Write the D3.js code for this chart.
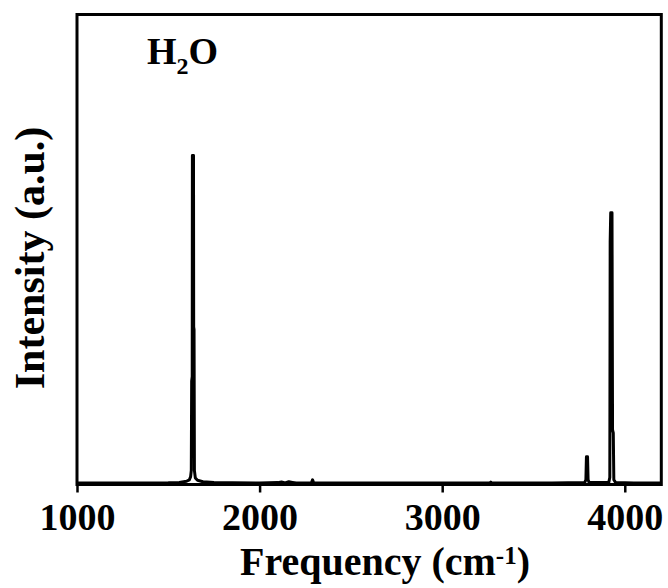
<!DOCTYPE html>
<html>
<head>
<meta charset="utf-8">
<script src="https://cdnjs.cloudflare.com/ajax/libs/d3/7.8.5/d3.min.js"></script>
<style>
    body { margin: 0; background: #fff; }
    text { font-family: "Liberation Serif", "Times New Roman", serif; font-weight: bold; fill: #000; }
</style>
</head>
<body>
<div id="chart"></div>
<script>
// spectrum (frequency in cm-1, intensity in a.u.)
var frequency = [1000, 1200, 1400, 1500, 1560, 1600, 1615, 1622, 1626, 1628, 1631, 1632, 1638, 1639, 1641, 1643, 1648, 1660, 1690, 1750, 1850, 2000,
                 2100, 2120, 2140, 2160, 2180, 2200, 2250, 2284, 2290, 2296, 2400, 2800, 3200, 3260, 3266, 3272, 3600, 3780, 3787, 3790, 3796, 3799, 3805,
                 3880, 3912, 3918, 3920, 3923, 3930, 3933, 3937, 3940, 3950, 4050, 4200];
var intensity = [0.3, 0.3, 0.3, 0.35, 0.45, 0.7, 1.0, 1.6, 3.0, 22.0, 23.0, 70.0, 70.0, 33.5, 33.0, 3.0, 1.4, 0.9, 0.6, 0.45, 0.35, 0.3,
                 0.4, 0.55, 0.35, 0.6, 0.45, 0.3, 0.3, 0.35, 1.0, 0.35, 0.3, 0.3, 0.3, 0.3, 0.5, 0.3, 0.3, 0.4, 1.0, 5.9, 5.9, 1.0, 0.4,
                 0.4, 0.4, 1.5, 51.7, 57.8, 57.8, 11.6, 11.0, 1.0, 0.4, 0.3, 0.3];
var x_ticks = [1000, 2000, 3000, 4000];

var spectrum = frequency.map(function(f, i) { return {freq: f, value: intensity[i]}; });

var svg_width = 668,
    svg_height = 588,
    margins = {top: 14.5, right: 6.7, bottom: 103.5, left: 77},
    width = svg_width - margins.left - margins.right,
    height = svg_height - margins.top - margins.bottom;

var svg = d3.select("#chart").append("svg")
    .attr("width", svg_width)
    .attr("height", svg_height);

var g = svg.append("g")
    .attr("transform", "translate(" + margins.left + "," + margins.top + ")");

var xScale = d3.scaleLinear()
    .domain([1000, 4200])
    .range([0, width]);

var yScale = d3.scaleLinear()
    .domain([0, 100])
    .range([height, 0]);

g.append("clipPath")
    .attr("id", "plot-clip")
    .append("rect")
    .attr("width", width)
    .attr("height", height);

var line = d3.line()
    .x(function(d) { return xScale(d.freq); })
    .y(function(d) { return yScale(d.value); });

g.append("path")
    .datum(spectrum)
    .attr("clip-path", "url(#plot-clip)")
    .attr("fill", "none")
    .attr("stroke", "#000")
    .attr("stroke-width", 3)
    .attr("stroke-linejoin", "round")
    .attr("d", line);

var xAxis = d3.axisBottom(xScale)
    .tickValues(x_ticks)
    .tickFormat(d3.format("d"))
    .tickSize(8)
    .tickPadding(10.5);

var xg = g.append("g")
    .attr("transform", "translate(0," + height + ")")
    .call(xAxis);

xg.select(".domain").remove();
xg.selectAll(".tick line")
    .attr("stroke", "#000")
    .attr("stroke-width", 2.5);
xg.selectAll(".tick text")
    .style("font-size", "38px");

// frame
g.append("rect")
    .attr("width", width)
    .attr("height", height)
    .attr("fill", "none")
    .attr("stroke", "#000")
    .attr("stroke-width", 3);

// H2O label
var label = g.append("text")
    .attr("x", 70)
    .attr("y", 63.5 - margins.top)
    .style("font-size", "38px");
label.append("tspan").text("H");
label.append("tspan").attr("dy", 10).style("font-size", "24px").text("2");
label.append("tspan").attr("dy", -10).text("O");

// x axis title
var xtitle = svg.append("text")
    .attr("x", 385)
    .attr("y", 575)
    .attr("text-anchor", "middle")
    .style("font-size", "40px");
xtitle.append("tspan").text("Frequency (cm");
xtitle.append("tspan").attr("dy", -11).style("font-size", "25px").text("-1");
xtitle.append("tspan").attr("dy", 11).text(")");

// y axis title
svg.append("text")
    .attr("transform", "translate(44,258) rotate(-90)")
    .attr("text-anchor", "middle")
    .style("font-size", "42px")
    .text("Intensity (a.u.)");
</script>
</body>
</html>
